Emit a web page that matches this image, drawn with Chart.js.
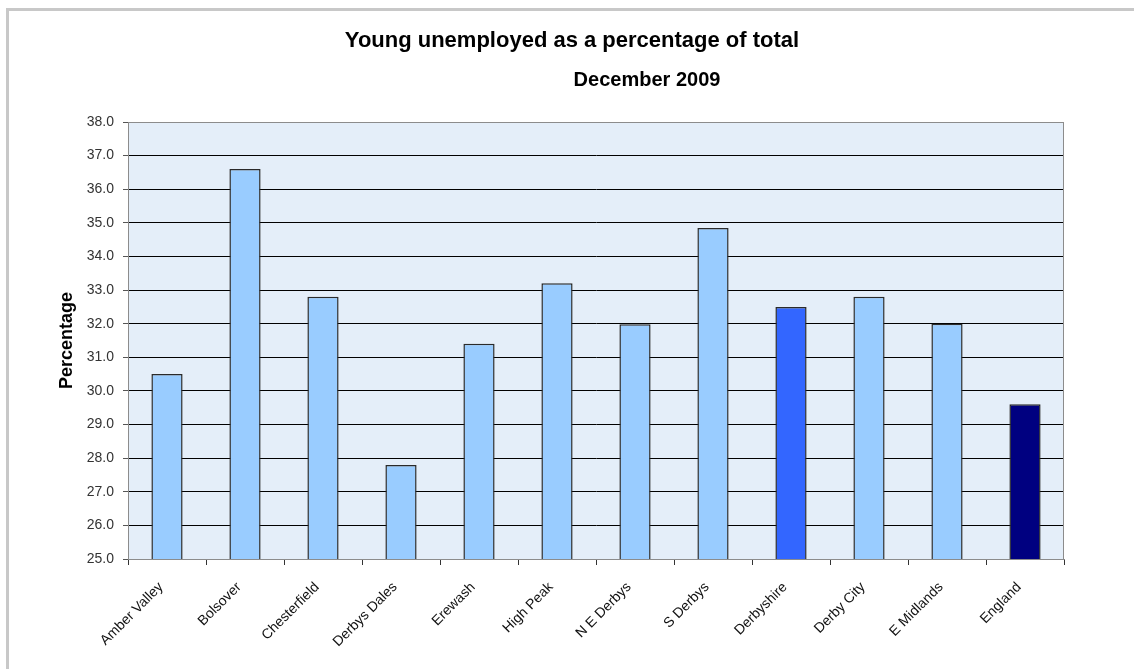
<!DOCTYPE html>
<html>
<head>
<meta charset="utf-8">
<script src="https://cdn.jsdelivr.net/npm/chart.js@4/dist/chart.umd.min.js"></script>
<style>
    html, body { margin: 0; padding: 0; background: #ffffff; }
    #wrap { position: relative; width: 1134px; height: 669px; overflow: hidden; }
    #frame {
        position: absolute; left: 6px; top: 8px; width: 1200px; height: 700px;
        border-top: 3px solid #c8c8c8; border-left: 3px solid #c8c8c8;
        box-sizing: border-box; pointer-events: none;
    }
    canvas { position: absolute; left: 0; top: 0; }
</style>
</head>
<body>
<div id="wrap">
    <canvas id="unempChart" width="1134" height="669"></canvas>
    <div id="frame"></div>
</div>
<script>
// chart data
const chartTitle = 'Young unemployed as a percentage of total';
const chartSubtitle = 'December 2009';
const axisTitle = 'Percentage';
const areas = ['Amber Valley', 'Bolsover', 'Chesterfield', 'Derbys Dales', 'Erewash', 'High Peak',
    'N E Derbys', 'S Derbys', 'Derbyshire', 'Derby City', 'E Midlands', 'England'];
const youngPct = [30.5, 36.6, 32.8, 27.8, 31.4, 33.2, 31.98, 34.85, 32.5, 32.8, 32.0, 29.6];
const barColours = ['#99ccff', '#99ccff', '#99ccff', '#99ccff', '#99ccff', '#99ccff',
    '#99ccff', '#99ccff', '#3366ff', '#99ccff', '#99ccff', '#000080'];
const yMin = 25, yMax = 38, yStep = 1;

// plot background + outline + titles
const decorPlugin = {
    id: 'decor',
    beforeDraw(chart) {
        const { ctx, chartArea: a } = chart;
        ctx.save();
        ctx.fillStyle = '#e4eef9';
        ctx.fillRect(a.left, a.top, a.right - a.left, a.bottom - a.top);
        ctx.restore();
    },
    afterDraw(chart) {
        const { ctx, chartArea: a } = chart;
        ctx.save();
        ctx.strokeStyle = '#8c8c8c';
        ctx.lineWidth = 1;
        ctx.strokeRect(a.left + 0.5, a.top + 0.5, a.right - a.left - 1, a.bottom - a.top);
        ctx.fillStyle = '#000';
        ctx.textAlign = 'center';
        ctx.textBaseline = 'middle';
        ctx.font = 'bold 22px "Liberation Sans", Arial, sans-serif';
        ctx.fillText(chartTitle, 572, 41);
        ctx.font = 'bold 20px "Liberation Sans", Arial, sans-serif';
        ctx.fillText(chartSubtitle, 647, 80);
        ctx.restore();
    }
};

const ctx = document.getElementById('unempChart').getContext('2d');
new Chart(ctx, {
    type: 'bar',
    data: {
        labels: areas,
        datasets: [{
            label: chartTitle,
            data: youngPct,
            backgroundColor: barColours,
            borderColor: '#2a2a2a',
            borderWidth: 1.5,
            borderSkipped: false,
            barPercentage: 0.4,
            categoryPercentage: 1.0
        }]
    },
    options: {
        responsive: false,
        animation: false,
        layout: { padding: { left: 0, right: 70, top: 122, bottom: 0 } },
        plugins: {
            legend: { display: false },
            tooltip: { enabled: false }
        },
        scales: {
            x: {
                grid: {
                    offset: true,
                    drawOnChartArea: false,
                    drawTicks: true,
                    tickLength: 6,
                    color: '#333333'
                },
                border: { display: true, color: '#808080', width: 1 },
                ticks: {
                    maxRotation: 45,
                    minRotation: 45,
                    autoSkip: false,
                    padding: 14,
                    labelOffset: -6,
                    color: '#111111',
                    font: { family: '"Liberation Sans", Arial, sans-serif', size: 14 }
                },
                afterFit(scale) { scale.height = 110; }
            },
            y: {
                min: yMin,
                max: yMax,
                grid: {
                    color: c => (c.tick && (c.tick.value === yMax || c.tick.value === yMin)) ? '#8c8c8c' : '#000000',
                    tickLength: 5,
                    tickColor: '#555555',
                    lineWidth: 1
                },
                border: { display: true, color: '#808080', width: 1 },
                ticks: {
                    stepSize: yStep,
                    padding: 9,
                    color: '#333333',
                    font: { family: '"Liberation Sans", Arial, sans-serif', size: 14 },
                    callback: v => Number(v).toFixed(1)
                },
                title: {
                    display: true,
                    text: axisTitle,
                    color: '#000',
                    padding: { top: 56, bottom: 0 },
                    font: { family: '"Liberation Sans", Arial, sans-serif', size: 18, weight: 'bold' }
                },
                afterFit(scale) { scale.width = 128; }
            }
        }
    },
    plugins: [decorPlugin]
});
</script>
</body>
</html>
